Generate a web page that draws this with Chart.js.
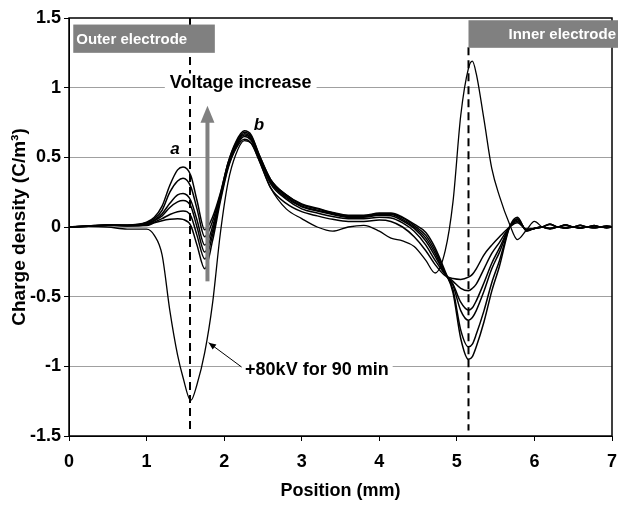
<!DOCTYPE html>
<html>
<head>
<meta charset="utf-8">
<script src="https://cdn.jsdelivr.net/npm/chart.js@4.4.1/dist/chart.umd.min.js"></script>
<style>
  html, body { margin: 0; padding: 0; background: #fff; }
</style>
</head>
<body>
<canvas id="chargeChart" width="619" height="509"></canvas>
<script>
// positions along the sample (mm), shared by every profile
var positions = [0, 0.25, 0.5, 0.75, 1.0, 1.1, 1.2, 1.3, 1.4, 1.47,
  1.57, 1.65, 1.75, 1.85, 1.95, 2.05, 2.15, 2.26, 2.35, 2.45,
  2.6, 2.8, 3.0, 3.2, 3.4, 3.6, 3.8, 4.0, 4.15, 4.3,
  4.45, 4.6, 4.72, 4.85, 4.95, 5.05, 5.15, 5.2, 5.25, 5.35,
  5.45, 5.55, 5.68, 5.78, 5.9, 6.0, 6.1, 6.2, 6.3, 6.4,
  6.5, 6.59, 6.68, 6.77, 6.85, 6.93, 7.0];

// charge density profiles (C/m3), lowest to highest voltage
var step1 = [0, 0.005, 0.012, 0.008, 0.01, 0.03, 0.045, 0.055, 0.06, 0.055,
  0.01, -0.13, -0.3, -0.1, 0.18, 0.42, 0.56, 0.63, 0.6, 0.48,
  0.28, 0.17, 0.11, 0.08, 0.055, 0.04, 0.04, 0.05, 0.04, 0.0,
  -0.07, -0.17, -0.27, -0.35, -0.37, -0.376, -0.36, -0.34, -0.3, -0.2,
  -0.13, -0.07, 0, 0.03, -0.015, -0.01, 0, 0.018, 0, 0.014,
  0, 0.011, 0, 0.009, 0, 0.007, 0];
var step2 = [0, 0.005, 0.012, 0.009, 0.015, 0.035, 0.06, 0.09, 0.11, 0.115,
  0.08, -0.06, -0.23, -0.06, 0.2, 0.43, 0.57, 0.65, 0.62, 0.5,
  0.31, 0.2, 0.13, 0.1, 0.075, 0.06, 0.06, 0.07, 0.065, 0.03,
  -0.03, -0.13, -0.24, -0.34, -0.39, -0.44, -0.458, -0.44, -0.41, -0.3,
  -0.19, -0.11, 0, 0.04, -0.02, -0.01, 0, -0.01, 0, -0.008,
  0, -0.007, 0, -0.006, 0, -0.005, 0];
var step3 = [0, 0.006, 0.013, 0.01, 0.02, 0.045, 0.08, 0.14, 0.18, 0.19,
  0.15, 0.0, -0.18, -0.03, 0.21, 0.44, 0.58, 0.66, 0.63, 0.5,
  0.32, 0.21, 0.145, 0.115, 0.09, 0.07, 0.07, 0.085, 0.08, 0.045,
  -0.01, -0.1, -0.21, -0.34, -0.41, -0.54, -0.597, -0.58, -0.53, -0.4,
  -0.26, -0.15, 0, 0.05, -0.02, -0.01, 0, 0.02, 0, 0.015,
  0, 0.012, 0, 0.01, 0, 0.008, 0];
var step4 = [0, 0.006, 0.014, 0.011, 0.025, 0.05, 0.095, 0.17, 0.23, 0.24,
  0.19, 0.05, -0.13, 0.0, 0.22, 0.45, 0.59, 0.67, 0.64, 0.51,
  0.33, 0.22, 0.15, 0.12, 0.095, 0.075, 0.075, 0.09, 0.09, 0.055,
  0.0, -0.08, -0.19, -0.34, -0.42, -0.6, -0.669, -0.65, -0.6, -0.46,
  -0.3, -0.18, 0, 0.055, -0.025, -0.01, 0, -0.01, 0, -0.008,
  0, -0.007, 0, -0.006, 0, -0.005, 0];
var step5 = [0, 0.007, 0.015, 0.013, 0.03, 0.06, 0.12, 0.25, 0.33, 0.35,
  0.29, 0.13, -0.07, 0.04, 0.23, 0.46, 0.6, 0.68, 0.65, 0.52,
  0.34, 0.23, 0.16, 0.13, 0.1, 0.08, 0.08, 0.095, 0.095, 0.065,
  0.01, -0.06, -0.17, -0.33, -0.45, -0.74, -0.86, -0.84, -0.77, -0.6,
  -0.4, -0.24, 0, 0.06, -0.025, -0.01, 0, 0.022, 0, 0.016,
  0, 0.012, 0, 0.01, 0, 0.008, 0];
var step6 = [0, 0.008, 0.015, 0.015, 0.035, 0.07, 0.15, 0.3, 0.41, 0.43,
  0.37, 0.19, -0.02, 0.07, 0.24, 0.46, 0.61, 0.69, 0.66, 0.52,
  0.34, 0.23, 0.165, 0.135, 0.105, 0.085, 0.085, 0.1, 0.1, 0.07,
  0.02, -0.04, -0.15, -0.32, -0.47, -0.8, -0.95, -0.93, -0.86, -0.68,
  -0.46, -0.28, 0, 0.07, -0.03, -0.01, 0, -0.01, 0, -0.008,
  0, -0.007, 0, -0.006, 0, -0.005, 0];
// +80kV for 90 min
var aged80kV = [0, 0.005, 0.0, -0.015, -0.015, -0.06, -0.2, -0.6, -0.92, -1.08,
  -1.245, -1.13, -0.9, -0.55, -0.05, 0.32, 0.52, 0.62, 0.6, 0.48,
  0.28, 0.13, 0.06, 0.0, -0.03, 0.0, 0.012, -0.03, -0.08, -0.1,
  -0.14, -0.24, -0.33, -0.17, 0.18, 0.8, 1.14, 1.19, 1.1, 0.77,
  0.42, 0.22, 0.02, -0.09, -0.02, 0.04, 0.0, -0.015, 0.0, 0.01,
  0, -0.008, 0, 0.006, 0, -0.005, 0];

var electrodes = [1.56, 5.15];
var xTicks = [0, 1, 2, 3, 4, 5, 6, 7];
var yTicks = [-1.5, -1, -0.5, 0, 0.5, 1, 1.5];

var FONT = "'Liberation Sans', Arial, sans-serif";
Chart.defaults.font.family = FONT;
Chart.defaults.color = '#000';

function toPoints(ys) {
  return positions.map(function(x, i) { return { x: x, y: ys[i] }; });
}

var profiles = [step1, step2, step3, step4, step5, step6].map(function(s) {
  return {
    data: toPoints(s),
    borderColor: '#000',
    borderWidth: 1.5,
    pointRadius: 0,
    cubicInterpolationMode: 'monotone',
    fill: false
  };
});
profiles.push({
  data: toPoints(aged80kV),
  borderColor: '#000',
  borderWidth: 1.3,
  pointRadius: 0,
  cubicInterpolationMode: 'monotone',
  fill: false
});
// dashed electrode positions
profiles.push({
  data: [{ x: electrodes[0], y: 1.5 }, { x: electrodes[0], y: -1.46 }],
  borderColor: '#000', borderWidth: 2, borderDash: [8, 5], pointRadius: 0
});
profiles.push({
  data: [{ x: electrodes[1], y: 1.29 }, { x: electrodes[1], y: -1.46 }],
  borderColor: '#000', borderWidth: 2, borderDash: [8, 5], pointRadius: 0
});

var annotations = {
  id: 'annotations',
  afterDatasetsDraw: function(chart) {
    var ctx = chart.ctx, xs = chart.scales.x, ys = chart.scales.y, area = chart.chartArea;
    var px = function(v) { return xs.getPixelForValue(v); };
    var py = function(v) { return ys.getPixelForValue(v); };
    ctx.save();

    // frame
    ctx.strokeStyle = '#000';
    ctx.lineWidth = 1.5;
    ctx.strokeRect(area.left, area.top, area.right - area.left, area.bottom - area.top);

    // electrode boxes
    ctx.fillStyle = '#808080';
    ctx.fillRect(px(0.055), py(1.453), px(1.88) - px(0.055), py(1.25) - py(1.453));
    ctx.fillRect(px(5.15), py(1.484), area.right + 6 - px(5.15), py(1.286) - py(1.484));
    ctx.fillStyle = '#fff';
    ctx.font = 'bold 15px ' + FONT;
    ctx.textBaseline = 'middle';
    ctx.textAlign = 'left';
    ctx.fillText('Outer electrode', px(0.055) + 3, (py(1.453) + py(1.25)) / 2 + 1);
    ctx.textAlign = 'right';
    ctx.fillText('Inner electrode', area.right + 4, (py(1.484) + py(1.286)) / 2 + 1);

    // voltage increase label
    ctx.font = 'bold 18px ' + FONT;
    ctx.textAlign = 'left';
    var vx = px(1.3), vy = py(1.03);
    var vw = ctx.measureText('Voltage increase').width;
    ctx.fillStyle = '#fff';
    ctx.fillRect(vx - 5, vy - 10, vw + 10, 20);
    ctx.fillStyle = '#000';
    ctx.fillText('Voltage increase', vx, vy);

    // grey arrow
    var ax = px(1.785), aTop = py(0.87), aBot = py(-0.39);
    ctx.fillStyle = '#808080';
    ctx.fillRect(ax - 2, aTop + 16, 4, aBot - aTop - 16);
    ctx.beginPath();
    ctx.moveTo(ax, aTop);
    ctx.lineTo(ax - 7, aTop + 17);
    ctx.lineTo(ax + 7, aTop + 17);
    ctx.closePath();
    ctx.fill();

    // curve labels
    ctx.fillStyle = '#000';
    ctx.font = 'italic bold 17px ' + FONT;
    ctx.textAlign = 'center';
    ctx.fillText('a', px(1.366), py(0.554));
    ctx.fillText('b', px(2.45), py(0.727));

    // +80kV label with pointer
    ctx.font = 'bold 18px ' + FONT;
    ctx.textAlign = 'left';
    var tx = px(2.27), ty = py(-1.03);
    var tw = ctx.measureText('+80kV for 90 min').width;
    ctx.fillStyle = '#fff';
    ctx.fillRect(tx - 4, ty - 10, tw + 8, 20);
    ctx.fillStyle = '#000';
    ctx.fillText('+80kV for 90 min', tx, ty);
    var x0 = px(2.225), y0 = py(-1.005), x1 = px(1.80), y1 = py(-0.83);
    ctx.strokeStyle = '#000';
    ctx.lineWidth = 1;
    ctx.beginPath();
    ctx.moveTo(x0, y0);
    ctx.lineTo(x1, y1);
    ctx.stroke();
    var ang = Math.atan2(y1 - y0, x1 - x0);
    ctx.beginPath();
    ctx.moveTo(x1, y1);
    ctx.lineTo(x1 - 8 * Math.cos(ang - 0.4), y1 - 8 * Math.sin(ang - 0.4));
    ctx.lineTo(x1 - 8 * Math.cos(ang + 0.4), y1 - 8 * Math.sin(ang + 0.4));
    ctx.closePath();
    ctx.fill();

    ctx.restore();
  }
};

new Chart(document.getElementById('chargeChart'), {
  type: 'line',
  data: { datasets: profiles },
  plugins: [annotations],
  options: {
    responsive: false,
    animation: false,
    layout: { padding: { top: 18, right: 7, left: 0, bottom: 0 } },
    plugins: { legend: { display: false }, tooltip: { enabled: false } },
    scales: {
      x: {
        type: 'linear',
        min: 0, max: 7,
        afterBuildTicks: function(scale) { scale.ticks = xTicks.map(function(v) { return { value: v }; }); },
        afterFit: function(scale) { scale.height = 73; scale.paddingLeft = 0; scale.paddingRight = 0; },
        grid: { drawOnChartArea: false, tickColor: '#000', tickLength: 5 },
        border: { color: '#000', width: 1 },
        ticks: { font: { size: 18, weight: 'bold' }, padding: 10, maxRotation: 0 },
        title: { display: true, text: 'Position (mm)', font: { size: 18, weight: 'bold' }, padding: { top: 0, bottom: 7 } }
      },
      y: {
        min: -1.5, max: 1.5,
        afterBuildTicks: function(scale) { scale.ticks = yTicks.map(function(v) { return { value: v }; }); },
        afterFit: function(scale) { scale.width = 69; scale.paddingTop = 0; scale.paddingBottom = 0; },
        grid: {
          color: function(c) { return (c.tick && Math.abs(c.tick.value) === 1.5) ? 'rgba(0,0,0,0)' : '#a0a0a0'; },
          tickColor: '#000', tickLength: 5
        },
        border: { color: '#000', width: 1 },
        ticks: { font: { size: 18, weight: 'bold' }, padding: 3, callback: function(v) { return String(v); } },
        title: { display: true, text: 'Charge density (C/m\u00b3)', font: { size: 19, weight: 'bold' }, padding: { top: 8, bottom: 0 } }
      }
    }
  }
});
</script>
</body>
</html>
